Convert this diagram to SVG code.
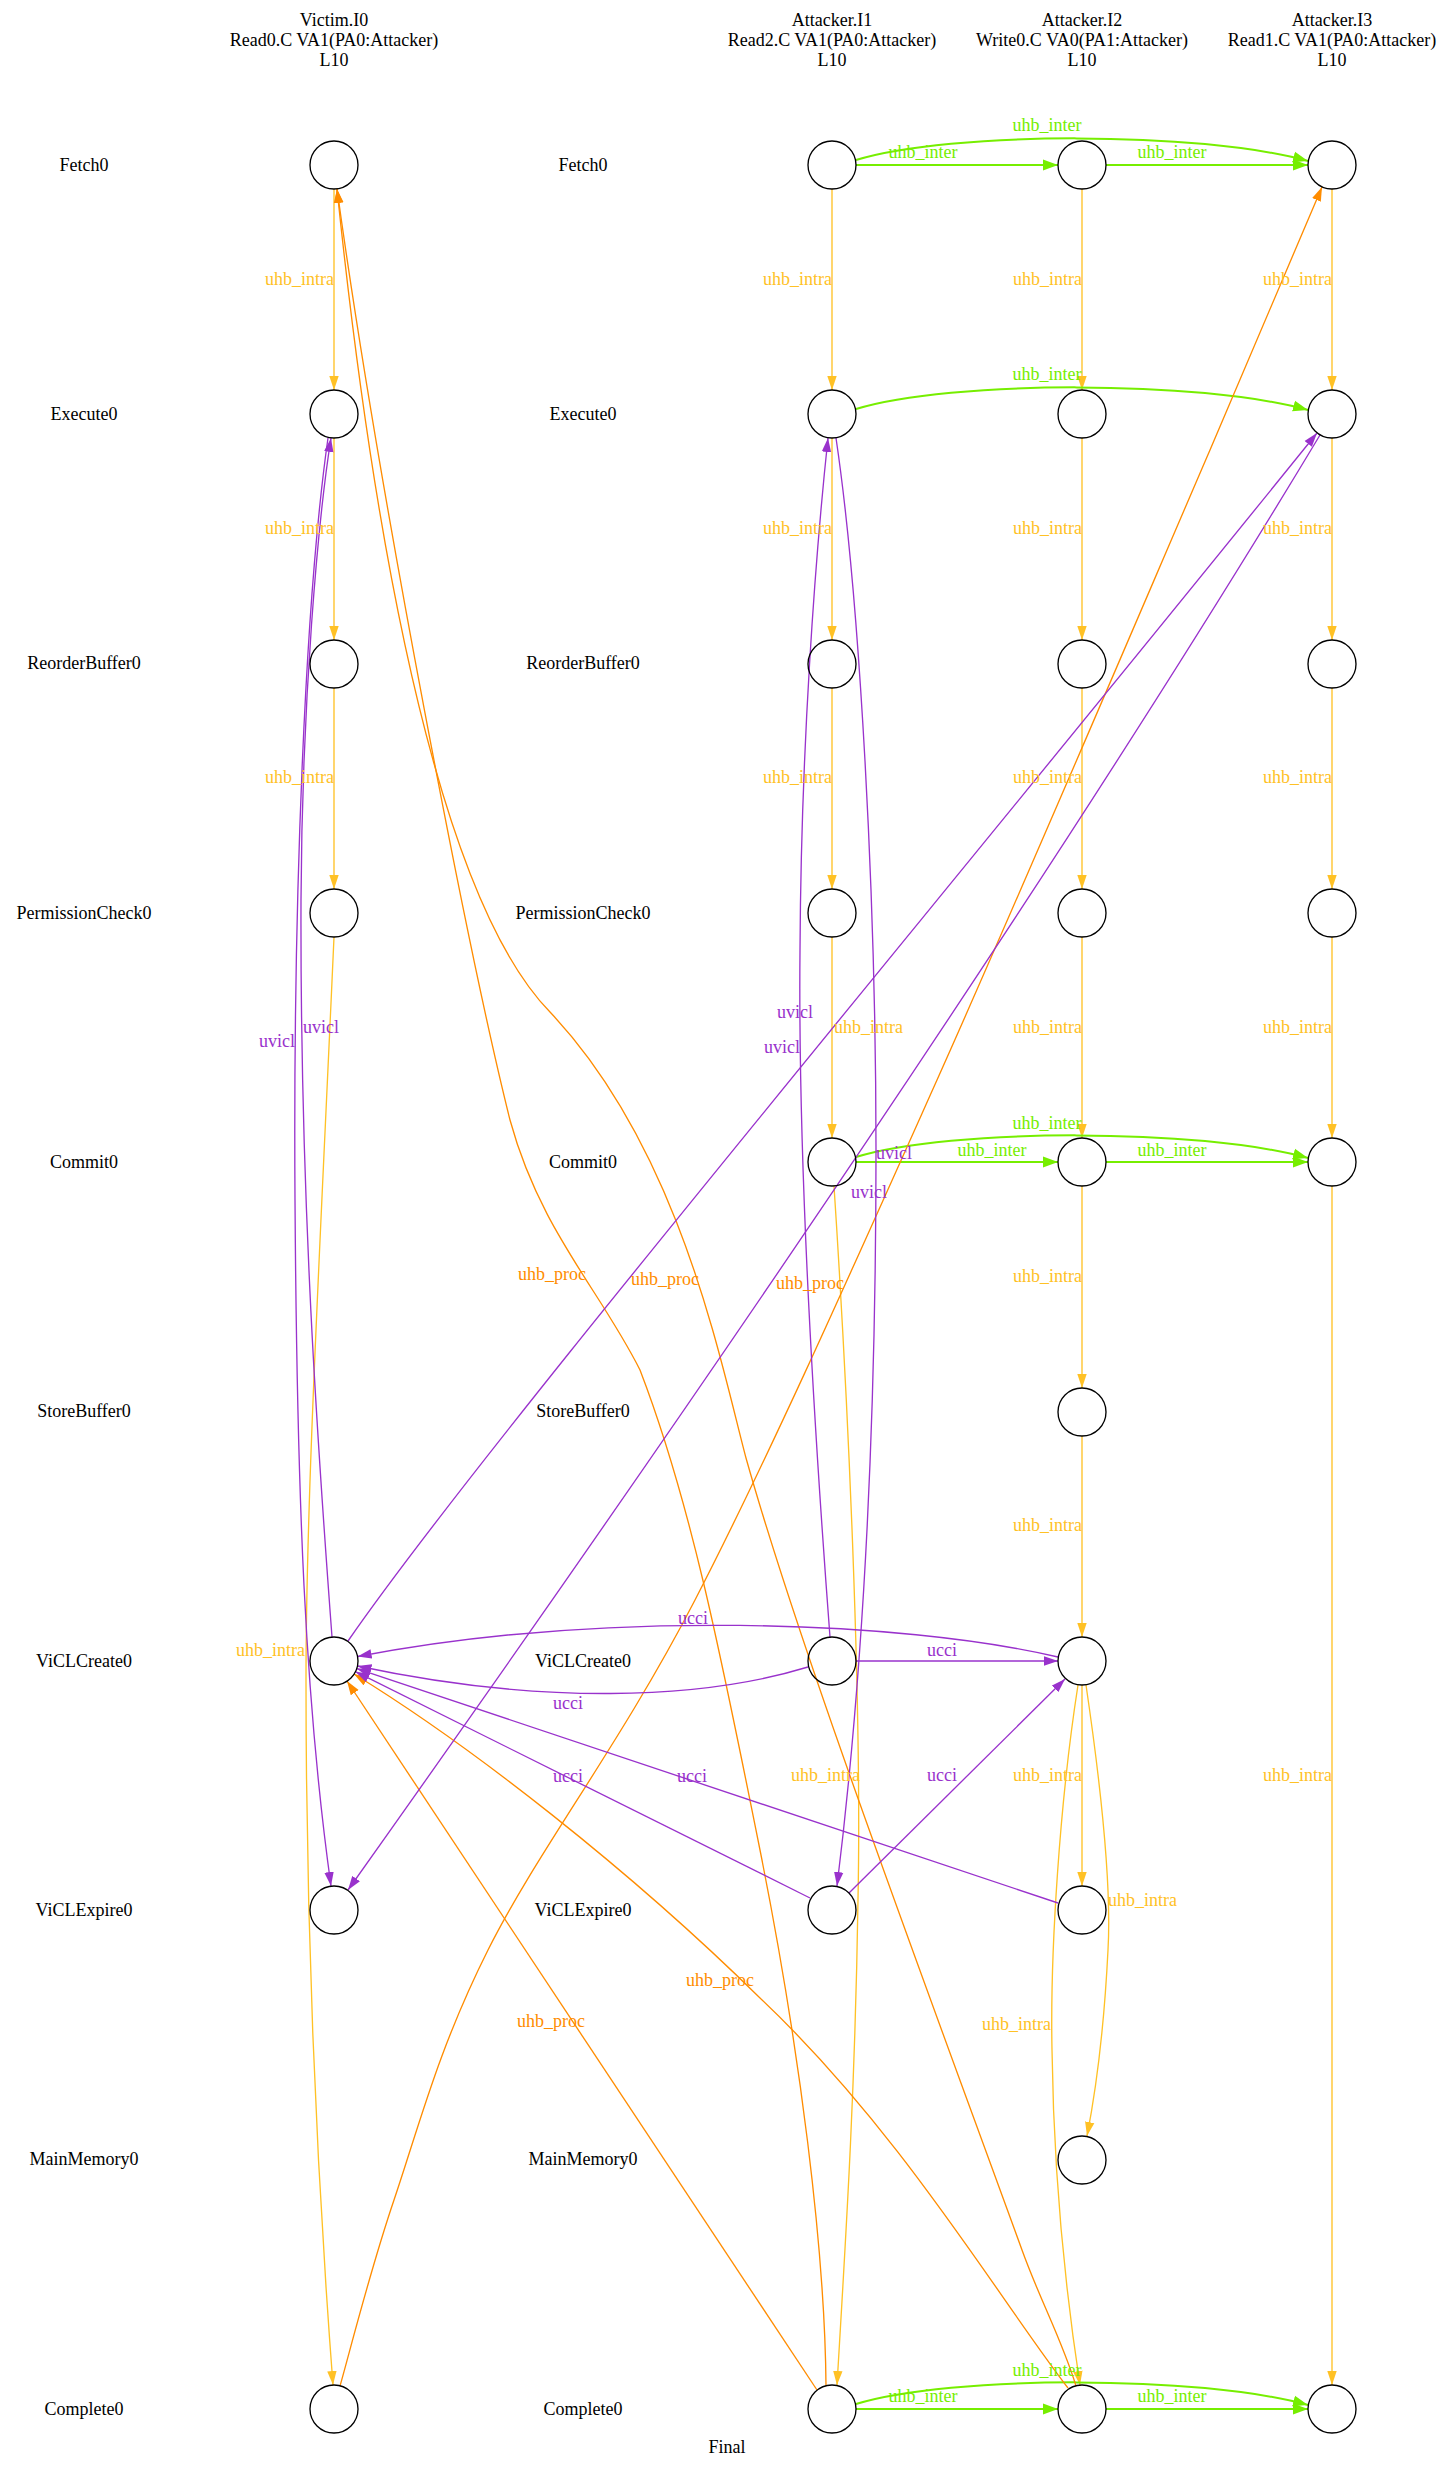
<svg xmlns="http://www.w3.org/2000/svg" width="1455" height="2469" viewBox="0 0 1455 2469">
<style>
text{font-family:"Liberation Serif","Times New Roman",serif;font-size:18px;text-anchor:middle}
.lab{fill:#000}
.n{fill:none;stroke:#000;stroke-width:1.33}
.e{fill:none;stroke-width:1.33}
.y{stroke:#FFC125;marker-end:url(#ay)}
.o{stroke:#FF8C00;marker-end:url(#ao)}
.p{stroke:#9932CC;marker-end:url(#ap)}
.g{stroke:#76EE00;stroke-width:2;marker-end:url(#ag)}
.ty{fill:#FFC125}
.to{fill:#FF8C00}
.tp{fill:#9932CC}
.tg{fill:#76EE00}
.end{text-anchor:end}
.start{text-anchor:start}
</style>
<defs>
<marker id="ay" markerUnits="userSpaceOnUse" markerWidth="14" markerHeight="10" refX="14" refY="5" orient="auto" viewBox="0 0 14 10"><path d="M0,0.3 L14,5 L0,9.7 z" fill="#FFC125"/></marker>
<marker id="ao" markerUnits="userSpaceOnUse" markerWidth="14" markerHeight="10" refX="14" refY="5" orient="auto" viewBox="0 0 14 10"><path d="M0,0.3 L14,5 L0,9.7 z" fill="#FF8C00"/></marker>
<marker id="ap" markerUnits="userSpaceOnUse" markerWidth="14" markerHeight="10" refX="14" refY="5" orient="auto" viewBox="0 0 14 10"><path d="M0,0.3 L14,5 L0,9.7 z" fill="#9932CC"/></marker>
<marker id="ag" markerUnits="userSpaceOnUse" markerWidth="15" markerHeight="12" refX="15" refY="6" orient="auto" viewBox="0 0 15 12"><path d="M0,0.5 L15,6 L0,11.5 z" fill="#76EE00"/></marker>
</defs>
<rect width="1455" height="2469" fill="#fff"/>

<g id="headers">
<text class="lab" x="334" y="26">Victim.I0</text>
<text class="lab" x="334" y="46">Read0.C VA1(PA0:Attacker)</text>
<text class="lab" x="334" y="66">L10</text>
<text class="lab" x="832" y="26">Attacker.I1</text>
<text class="lab" x="832" y="46">Read2.C VA1(PA0:Attacker)</text>
<text class="lab" x="832" y="66">L10</text>
<text class="lab" x="1082" y="26">Attacker.I2</text>
<text class="lab" x="1082" y="46">Write0.C VA0(PA1:Attacker)</text>
<text class="lab" x="1082" y="66">L10</text>
<text class="lab" x="1332" y="26">Attacker.I3</text>
<text class="lab" x="1332" y="46">Read1.C VA1(PA0:Attacker)</text>
<text class="lab" x="1332" y="66">L10</text>
<text class="lab" x="727" y="2453">Final</text>
</g>

<g id="row-labels">
<text class="lab" x="84" y="170.5">Fetch0</text>
<text class="lab" x="583" y="170.5">Fetch0</text>
<text class="lab" x="84" y="419.5">Execute0</text>
<text class="lab" x="583" y="419.5">Execute0</text>
<text class="lab" x="84" y="669">ReorderBuffer0</text>
<text class="lab" x="583" y="669">ReorderBuffer0</text>
<text class="lab" x="84" y="918.5">PermissionCheck0</text>
<text class="lab" x="583" y="918.5">PermissionCheck0</text>
<text class="lab" x="84" y="1167.5">Commit0</text>
<text class="lab" x="583" y="1167.5">Commit0</text>
<text class="lab" x="84" y="1417">StoreBuffer0</text>
<text class="lab" x="583" y="1417">StoreBuffer0</text>
<text class="lab" x="84" y="1666.5">ViCLCreate0</text>
<text class="lab" x="583" y="1666.5">ViCLCreate0</text>
<text class="lab" x="84" y="1915.5">ViCLExpire0</text>
<text class="lab" x="583" y="1915.5">ViCLExpire0</text>
<text class="lab" x="84" y="2165">MainMemory0</text>
<text class="lab" x="583" y="2165">MainMemory0</text>
<text class="lab" x="84" y="2414.5">Complete0</text>
<text class="lab" x="583" y="2414.5">Complete0</text>
</g>

<g id="connectors">
<!-- uhb_intra -->
<path class="e y" d="M334,189 L334,390"/>
<path class="e y" d="M334,438 L334,640"/>
<path class="e y" d="M334,688 L334,889"/>
<path class="e y" d="M334,937 C320,1250 306,1500 306,1680 C306,1900 315,2150 333,2385"/>
<path class="e y" d="M832,189 L832,390"/>
<path class="e y" d="M832,438 L832,640"/>
<path class="e y" d="M832,688 L832,889"/>
<path class="e y" d="M832,937 L832,1138"/>
<path class="e y" d="M834,1186 C848,1400 862,1700 858,1900 C855,2100 845,2250 837,2385"/>
<path class="e y" d="M1082,189 L1082,390"/>
<path class="e y" d="M1082,438 L1082,640"/>
<path class="e y" d="M1082,688 L1082,889"/>
<path class="e y" d="M1082,937 L1082,1138"/>
<path class="e y" d="M1082,1186 L1082,1388"/>
<path class="e y" d="M1082,1436 L1082,1637"/>
<path class="e y" d="M1082,1685 L1082,1886"/>
<path class="e y" d="M1086,1685 C1100,1780 1112,1880 1108,1950 C1104,2030 1096,2090 1087,2136"/>
<path class="e y" d="M1078,1685 C1060,1800 1050,1950 1052,2050 C1054,2200 1070,2320 1080,2385"/>
<path class="e y" d="M1332,189 L1332,390"/>
<path class="e y" d="M1332,438 L1332,640"/>
<path class="e y" d="M1332,688 L1332,889"/>
<path class="e y" d="M1332,937 L1332,1138"/>
<path class="e y" d="M1332,1186 L1332,2385"/>
<!-- uhb_inter -->
<path class="e g" d="M856,165 L1058,165"/>
<path class="e g" d="M1106,165 L1308,165"/>
<path class="e g" d="M856,160 C950,131 1200,131 1308,161"/>
<path class="e g" d="M856,409 C950,380 1200,380 1308,410"/>
<path class="e g" d="M856,1162 L1058,1162"/>
<path class="e g" d="M1106,1162 L1308,1162"/>
<path class="e g" d="M856,1157 C950,1128 1200,1128 1308,1158"/>
<path class="e g" d="M856,2409 L1058,2409"/>
<path class="e g" d="M1106,2409 L1308,2409"/>
<path class="e g" d="M856,2404 C950,2375 1200,2375 1308,2405"/>
<!-- uhb_proc -->
<path class="e o" d="M340,2386 C349,2355 369.3,2272.7 394,2200 C418.7,2127.3 437.8,2050 488,1950 C538.2,1850 620.2,1745 695,1600 C769.8,1455 851.2,1271.7 937,1080 C1022.8,888.3 1145.8,598.8 1210,450 C1274.2,301.2 1303.3,230.8 1322,187"/>
<path class="e o" d="M826,2386 C825,2250 800,2050 760,1850 C720,1650 690,1500 640,1370 C600,1290 540,1230 510,1120 C470,960 380,500 337,189"/>
<path class="e o" d="M1076,2386 C1062,2340 1040,2300 1022,2250 C920,1970 800,1650 746,1458 C720,1360 680,1150 550,1012 C470,930 390,700 337,189"/>
<path class="e o" d="M817,2390 L347,1681"/>
<path class="e o" d="M1068,2388 C1000,2300 900,2130 760,1998 C630,1870 470,1745 354,1674"/>
<!-- uvicl -->
<path class="e p" d="M332,1637 C318,1450 300,1200 301,900 C302,700 318,520 331,438"/>
<path class="e p" d="M328,438 C305,600 293,900 295,1200 C297,1500 305,1700 331,1886"/>
<path class="e p" d="M348,1641 C480,1450 900,950 1317,433"/>
<path class="e p" d="M1320,435 Q980,1000 348,1890"/>
<path class="e p" d="M830,1637 C812,1400 798,1150 800,950 C801,750 815,560 828,438"/>
<path class="e p" d="M836,438 C860,600 876,900 876,1150 C876,1450 860,1700 837,1886"/>
<!-- ucci -->
<path class="e p" d="M856,1661 L1058,1661"/>
<path class="e p" d="M808,1667 C700,1700 540,1705 357.5,1666"/>
<path class="e p" d="M1058,1657 C900,1620 600,1610 357.6,1656.5"/>
<path class="e p" d="M810,1898 L355.5,1671.7"/>
<path class="e p" d="M1058,1903 L356.8,1668.6"/>
<path class="e p" d="M849,1893 L1065,1679"/>
</g>

<g id="edge-labels">
<text class="ty end" x="334" y="285">uhb_intra</text>
<text class="ty end" x="334" y="534">uhb_intra</text>
<text class="ty end" x="334" y="783">uhb_intra</text>
<text class="ty end" x="305" y="1656">uhb_intra</text>
<text class="ty end" x="832" y="285">uhb_intra</text>
<text class="ty end" x="832" y="534">uhb_intra</text>
<text class="ty end" x="832" y="783">uhb_intra</text>
<text class="ty start" x="834" y="1033">uhb_intra</text>
<text class="ty end" x="860" y="1781">uhb_intra</text>
<text class="ty end" x="1082" y="285">uhb_intra</text>
<text class="ty end" x="1082" y="534">uhb_intra</text>
<text class="ty end" x="1082" y="783">uhb_intra</text>
<text class="ty end" x="1082" y="1033">uhb_intra</text>
<text class="ty end" x="1082" y="1282">uhb_intra</text>
<text class="ty end" x="1082" y="1531">uhb_intra</text>
<text class="ty end" x="1082" y="1781">uhb_intra</text>
<text class="ty start" x="1108" y="1906">uhb_intra</text>
<text class="ty end" x="1051" y="2030">uhb_intra</text>
<text class="ty end" x="1332" y="285">uhb_intra</text>
<text class="ty end" x="1332" y="534">uhb_intra</text>
<text class="ty end" x="1332" y="783">uhb_intra</text>
<text class="ty end" x="1332" y="1033">uhb_intra</text>
<text class="ty end" x="1332" y="1781">uhb_intra</text>
<text class="tg" x="923" y="158">uhb_inter</text>
<text class="tg" x="1172" y="158">uhb_inter</text>
<text class="tg" x="1047" y="131">uhb_inter</text>
<text class="tg" x="1047" y="380">uhb_inter</text>
<text class="tg" x="992" y="1156">uhb_inter</text>
<text class="tg" x="1172" y="1156">uhb_inter</text>
<text class="tg" x="1047" y="1129">uhb_inter</text>
<text class="tg" x="923" y="2402">uhb_inter</text>
<text class="tg" x="1172" y="2402">uhb_inter</text>
<text class="tg" x="1047" y="2376">uhb_inter</text>
<text class="to" x="810" y="1289">uhb_proc</text>
<text class="to" x="552" y="1280">uhb_proc</text>
<text class="to" x="665" y="1285">uhb_proc</text>
<text class="to" x="551" y="2027">uhb_proc</text>
<text class="to" x="720" y="1986">uhb_proc</text>
<text class="tp" x="321" y="1033">uvicl</text>
<text class="tp" x="277" y="1047">uvicl</text>
<text class="tp" x="795" y="1018">uvicl</text>
<text class="tp" x="782" y="1053">uvicl</text>
<text class="tp" x="894" y="1159">uvicl</text>
<text class="tp" x="869" y="1198">uvicl</text>
<text class="tp" x="942" y="1656">ucci</text>
<text class="tp" x="568" y="1709">ucci</text>
<text class="tp" x="693" y="1624">ucci</text>
<text class="tp" x="568" y="1782">ucci</text>
<text class="tp" x="692" y="1782">ucci</text>
<text class="tp" x="942" y="1781">ucci</text>
</g>

<g id="nodes">
<g id="victim-fetch"><circle class="n" cx="334" cy="165" r="24"/></g>
<g id="victim-execute"><circle class="n" cx="334" cy="414" r="24"/></g>
<g id="victim-rob"><circle class="n" cx="334" cy="664" r="24"/></g>
<g id="victim-permcheck"><circle class="n" cx="334" cy="913" r="24"/></g>
<g id="victim-viclcreate"><circle class="n" cx="334" cy="1661" r="24"/></g>
<g id="victim-viclexpire"><circle class="n" cx="334" cy="1910" r="24"/></g>
<g id="victim-complete"><circle class="n" cx="334" cy="2409" r="24"/></g>
<g id="i1-fetch"><circle class="n" cx="832" cy="165" r="24"/></g>
<g id="i1-execute"><circle class="n" cx="832" cy="414" r="24"/></g>
<g id="i1-rob"><circle class="n" cx="832" cy="664" r="24"/></g>
<g id="i1-permcheck"><circle class="n" cx="832" cy="913" r="24"/></g>
<g id="i1-commit"><circle class="n" cx="832" cy="1162" r="24"/></g>
<g id="i1-viclcreate"><circle class="n" cx="832" cy="1661" r="24"/></g>
<g id="i1-viclexpire"><circle class="n" cx="832" cy="1910" r="24"/></g>
<g id="i1-complete"><circle class="n" cx="832" cy="2409" r="24"/></g>
<g id="i2-fetch"><circle class="n" cx="1082" cy="165" r="24"/></g>
<g id="i2-execute"><circle class="n" cx="1082" cy="414" r="24"/></g>
<g id="i2-rob"><circle class="n" cx="1082" cy="664" r="24"/></g>
<g id="i2-permcheck"><circle class="n" cx="1082" cy="913" r="24"/></g>
<g id="i2-commit"><circle class="n" cx="1082" cy="1162" r="24"/></g>
<g id="i2-storebuffer"><circle class="n" cx="1082" cy="1412" r="24"/></g>
<g id="i2-viclcreate"><circle class="n" cx="1082" cy="1661" r="24"/></g>
<g id="i2-viclexpire"><circle class="n" cx="1082" cy="1910" r="24"/></g>
<g id="i2-mainmemory"><circle class="n" cx="1082" cy="2160" r="24"/></g>
<g id="i2-complete"><circle class="n" cx="1082" cy="2409" r="24"/></g>
<g id="i3-fetch"><circle class="n" cx="1332" cy="165" r="24"/></g>
<g id="i3-execute"><circle class="n" cx="1332" cy="414" r="24"/></g>
<g id="i3-rob"><circle class="n" cx="1332" cy="664" r="24"/></g>
<g id="i3-permcheck"><circle class="n" cx="1332" cy="913" r="24"/></g>
<g id="i3-commit"><circle class="n" cx="1332" cy="1162" r="24"/></g>
<g id="i3-complete"><circle class="n" cx="1332" cy="2409" r="24"/></g>
</g>
</svg>
